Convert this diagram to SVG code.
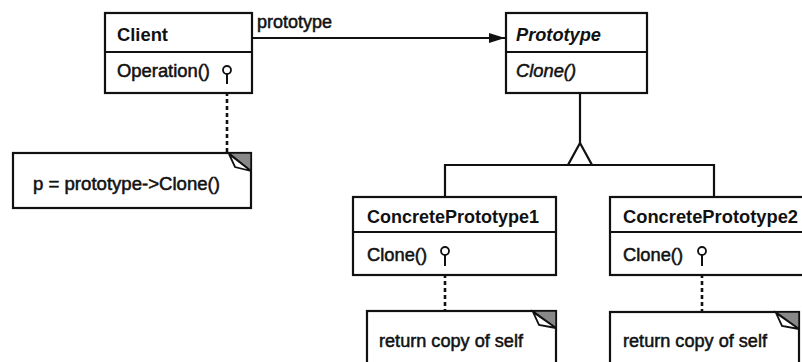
<svg xmlns="http://www.w3.org/2000/svg" width="802" height="362" viewBox="0 0 802 362">
<style>
.box{fill:#fff;stroke:#111;stroke-width:2.2}
.div{stroke:#111;stroke-width:2}
.t{font-family:"Liberation Sans",Arial,sans-serif;font-size:17.5px;fill:#111}
.r{stroke:#111;stroke-width:0.5}
.b{font-weight:bold}
.i{font-style:italic}
.ln{fill:none;stroke:#111;stroke-width:2.2}
.dash{fill:none;stroke:#111;stroke-width:2.6;stroke-dasharray:4 3}
.lol{fill:#fff;stroke:#111;stroke-width:1.8}
.ear{fill:#888;stroke:#111;stroke-width:1.5}
.flap{fill:#fff;stroke:#111;stroke-width:1.8}
</style>
<defs>
<marker id="arr" markerWidth="16" markerHeight="10" refX="16" refY="5" orient="auto" markerUnits="userSpaceOnUse">
<path d="M0,0 L16,5 L0,10 Z" fill="#111"/>
</marker>
</defs>
<rect width="802" height="362" fill="#fff"/>
<g id="connectors">
<path class="ln" d="M252,38 H505" marker-end="url(#arr)"/>
<path class="ln" d="M580,93 V143"/>
<path class="ln" d="M445,197 V165 H714 V197"/>
<polygon class="ln" points="580,143 568,165 592,165" style="fill:#fff"/>
<path class="dash" d="M227,85 V153"/>
<path class="dash" d="M445,274 V311"/>
<path class="dash" d="M702,274 V312"/>
</g>
<g id="client">
<rect class="box" x="105" y="13" width="147" height="80"/>
<line class="div" x1="105" y1="52" x2="252" y2="52"/>
<text class="t b" x="117" y="41" textLength="51" lengthAdjust="spacingAndGlyphs">Client</text>
<text class="t r" x="117" y="77" textLength="93" lengthAdjust="spacingAndGlyphs">Operation()</text>
<line class="div" x1="227" y1="74" x2="227" y2="84"/>
<circle class="lol" cx="227" cy="70" r="4"/>
</g>
<g id="label-prototype">
<text class="t r" x="257" y="28" textLength="75" lengthAdjust="spacingAndGlyphs">prototype</text>
</g>
<g id="prototype">
<rect class="box" x="506" y="13" width="141" height="80"/>
<line class="div" x1="506" y1="52" x2="647" y2="52"/>
<text class="t b i" x="516" y="41" textLength="85" lengthAdjust="spacingAndGlyphs">Prototype</text>
<text class="t i r" x="516" y="77" textLength="60" lengthAdjust="spacingAndGlyphs">Clone()</text>
</g>
<g id="note-client">
<rect class="box" x="13" y="153" width="238" height="55"/>
<polygon class="ear" points="229,153 251,153 251,171"/>
<polygon class="flap" points="229,154 251,171 235,167"/>
<text class="t r" x="33" y="190" textLength="187" lengthAdjust="spacingAndGlyphs">p = prototype-&gt;Clone()</text>
</g>
<g id="concrete1">
<rect class="box" x="353" y="197" width="203" height="78"/>
<line class="div" x1="353" y1="232" x2="556" y2="232"/>
<text class="t b" x="367" y="223" textLength="172" lengthAdjust="spacingAndGlyphs">ConcretePrototype1</text>
<text class="t r" x="367" y="261" textLength="60" lengthAdjust="spacingAndGlyphs">Clone()</text>
<line class="div" x1="445" y1="255" x2="445" y2="266"/>
<circle class="lol" cx="445" cy="251" r="4"/>
</g>
<g id="concrete2">
<rect class="box" x="610" y="197" width="200" height="78"/>
<line class="div" x1="610" y1="232" x2="810" y2="232"/>
<text class="t b" x="623" y="223" textLength="175" lengthAdjust="spacingAndGlyphs">ConcretePrototype2</text>
<text class="t r" x="623" y="261" textLength="60" lengthAdjust="spacingAndGlyphs">Clone()</text>
<line class="div" x1="702" y1="255" x2="702" y2="266"/>
<circle class="lol" cx="702" cy="251" r="4"/>
</g>
<g id="note-concrete1">
<rect class="box" x="367" y="311" width="189" height="60"/>
<polygon class="ear" points="533,311 556,311 556,328"/>
<polygon class="flap" points="533,312 556,328 539,325"/>
<text class="t r" x="379" y="347" textLength="144" lengthAdjust="spacingAndGlyphs">return copy of self</text>
</g>
<g id="note-concrete2">
<rect class="box" x="610" y="312" width="189" height="60"/>
<polygon class="ear" points="776,312 799,312 799,329"/>
<polygon class="flap" points="776,313 799,329 782,326"/>
<text class="t r" x="623" y="347" textLength="144" lengthAdjust="spacingAndGlyphs">return copy of self</text>
</g>
</svg>
